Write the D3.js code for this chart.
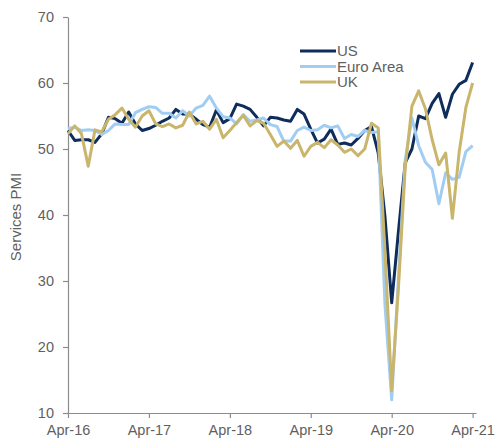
<!DOCTYPE html>
<html>
<head>
<meta charset="utf-8">
<script src="https://cdn.jsdelivr.net/npm/d3@7"></script>
<style>
  body { margin: 0; background: #fff; }
  text { font-family: "Liberation Sans", Arial, sans-serif; fill: #5f5f5f; }
</style>
</head>
<body>
<div id="chart"></div>
<script>
// monthly Services PMI, Apr-16 .. Apr-21 (61 months)
const usValues = [
  52.8, 51.3, 51.4, 51.4, 51.0, 52.3, 54.8, 54.6, 53.9,
  55.6, 53.8, 52.8, 53.1, 53.6, 54.2, 54.7, 56.0, 55.3, 55.3, 54.5, 53.7,
  53.3, 55.9, 54.0, 54.6, 56.8, 56.5, 56.0, 54.8, 53.5, 54.8, 54.7, 54.4,
  54.2, 56.0, 55.3, 53.0, 50.9, 51.5, 53.0, 50.7, 50.9, 50.6, 51.6, 52.8,
  53.4, 49.4, 39.8, 26.7, 37.5, 47.9, 50.0, 55.0, 54.6, 56.9, 58.4, 54.8,
  58.3, 59.8, 60.4, 63.1
];
const euroValues = [
  53.1, 53.3, 52.8, 52.9, 52.8, 52.2, 52.8, 53.8, 53.7,
  53.7, 55.5, 56.0, 56.4, 56.3, 55.4, 55.4, 54.7, 55.8, 55.0, 56.2, 56.6,
  58.0, 56.2, 54.9, 54.7, 53.8, 55.2, 54.2, 54.4, 54.7, 53.7, 53.4, 51.2,
  51.2, 52.8, 53.3, 52.8, 52.9, 53.6, 53.2, 53.5, 51.6, 52.2, 51.9, 52.8,
  52.5, 52.6, 26.4, 12.0, 30.5, 48.3, 54.7, 50.5, 48.0, 46.9, 41.7, 46.4,
  45.4, 45.7, 49.6, 50.5
];
const ukValues = [
  52.3, 53.5, 52.3, 47.4, 52.9, 52.6, 54.5, 55.2, 56.2,
  54.5, 53.3, 55.0, 55.8, 53.8, 53.4, 53.8, 53.2, 53.6, 55.6, 53.8, 54.2,
  53.0, 54.5, 51.7, 52.8, 54.0, 55.1, 53.5, 54.3, 53.9, 52.2, 50.4, 51.2,
  50.1, 51.3, 48.9, 50.4, 51.0, 50.2, 51.4, 50.6, 49.5, 50.0, 49.0, 50.0,
  53.9, 53.2, 34.5, 13.4, 29.0, 47.1, 56.5, 58.8, 56.1, 51.4, 47.6, 49.4,
  39.5, 49.5, 56.3, 60.0
];
const xTickMonths = [0, 12, 24, 36, 48, 60];
const xTickLabels = ["Apr-16", "Apr-17", "Apr-18", "Apr-19", "Apr-20", "Apr-21"];
const yTicks = [10, 20, 30, 40, 50, 60, 70];
const seriesNames = ["US", "Euro Area", "UK"];
const seriesColors = ["#0e2d5c", "#a2cdf3", "#c9b56c"];

const width = 502, height = 444;
const svg = d3.select("#chart").append("svg")
  .attr("width", width)
  .attr("height", height);

const x = d3.scaleLinear().domain([0, 60.5]).range([68, 476]);
const y = d3.scaleLinear().domain([10, 70]).range([413, 17]);

// axes
const yAxis = svg.append("g")
  .attr("transform", "translate(68,0)")
  .call(d3.axisLeft(y).tickValues(yTicks).tickSize(5).tickSizeOuter(0).tickPadding(9));
yAxis.selectAll("text").style("font-size", "14.5px");

const xAxis = svg.append("g")
  .attr("transform", "translate(0,413)")
  .call(d3.axisBottom(x).tickValues(xTickMonths)
    .tickFormat((d, i) => xTickLabels[i])
    .tickSize(5).tickSizeOuter(0).tickPadding(7));
xAxis.selectAll("text").style("font-size", "14.5px");

svg.selectAll(".domain, .tick line").attr("stroke", "#8c8c8c").attr("stroke-width", 1.2);

svg.append("text")
  .attr("transform", "translate(21," + (y(40) + 2) + ") rotate(-90)")
  .attr("text-anchor", "middle")
  .style("font-size", "15px")
  .text("Services PMI");

// lines
const line = d3.line()
  .x((d, i) => x(i))
  .y(d => y(d));

const allSeries = [usValues, euroValues, ukValues];
allSeries.forEach(function(values, k) {
  svg.append("path")
    .datum(values)
    .attr("fill", "none")
    .attr("stroke", seriesColors[k])
    .attr("stroke-width", 3)
    .attr("stroke-linejoin", "round")
    .attr("d", line);
});

// legend
const legend = svg.append("g").attr("transform", "translate(300,51)");
seriesNames.forEach(function(name, k) {
  const row = legend.append("g").attr("transform", "translate(0," + k * 15.5 + ")");
  row.append("line")
    .attr("x1", 0).attr("x2", 36)
    .attr("stroke", seriesColors[k])
    .attr("stroke-width", 3);
  row.append("text")
    .attr("x", 37)
    .attr("dy", "0.35em")
    .style("font-size", "15px")
    .text(name);
});
</script>
</body>
</html>
